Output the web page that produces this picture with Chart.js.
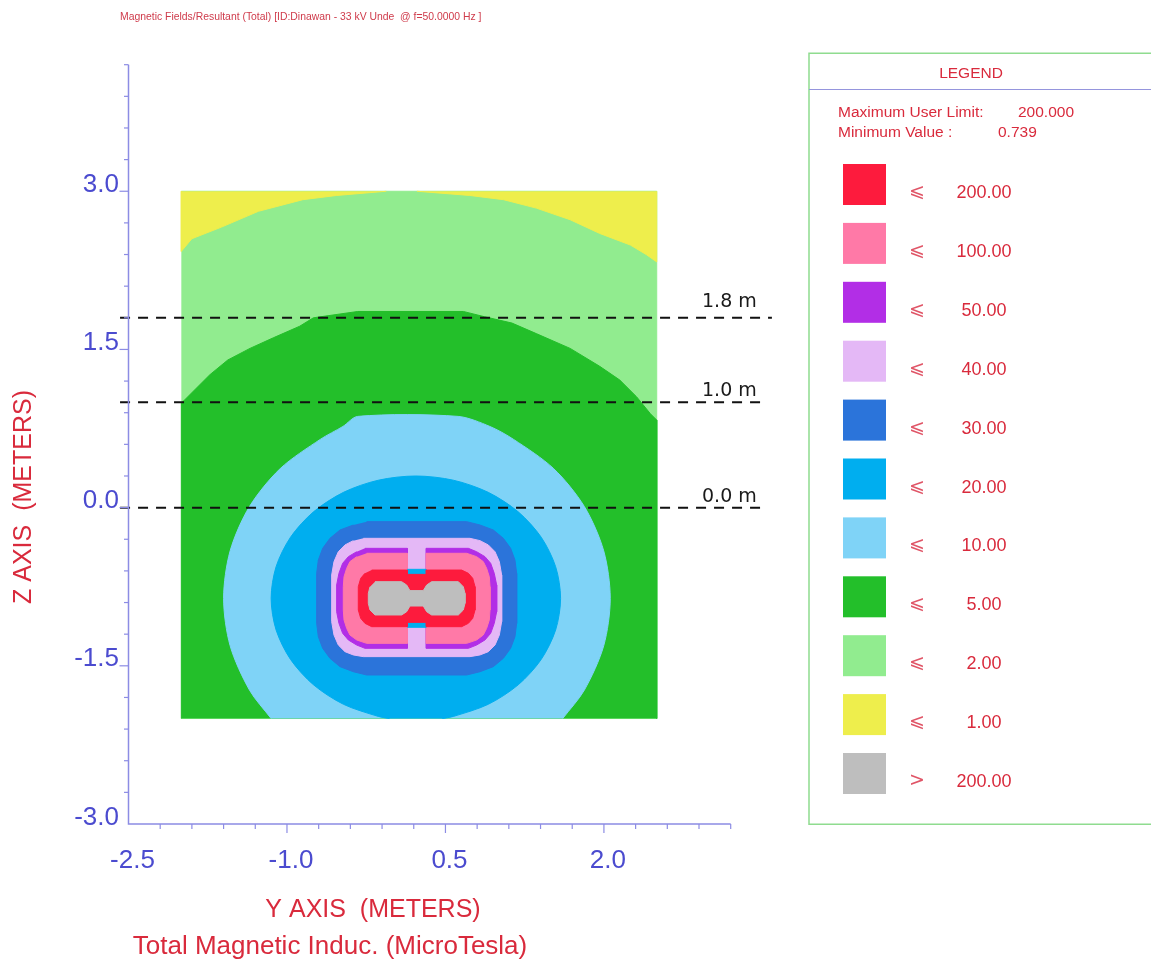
<!DOCTYPE html>
<html>
<head>
<meta charset="utf-8">
<title>Total Magnetic Induction</title>
<script src="https://cdn.jsdelivr.net/npm/chart.js@4.4.1/dist/chart.umd.min.js"></script>
<style>
  html, body { margin: 0; padding: 0; background: #ffffff; }
  #wrap { position: relative; width: 1151px; height: 962px; }
</style>
</head>
<body>
<div id="wrap"><canvas id="field"></canvas></div>
<script>
// ---- Contour boundaries, [Y (m), Z (m)] -------------------------------------
const gridArea   = [[-2.0,-2.0],[2.5,-2.0],[2.5,3.0],[-2.0,3.0]];              // <= 2.00 (whole grid)
const below1Left = [[-2.0,3.0],[-2.0,2.43],[-1.90,2.55],[-1.62,2.66],[-1.27,2.81],[-0.85,2.92],[-0.53,2.96],[-0.06,3.0]];
const below1Right= [[0.23,3.0],[0.73,2.96],[1.05,2.92],[1.36,2.84],[1.68,2.73],[1.96,2.60],[2.25,2.49],[2.40,2.40],[2.5,2.33],[2.5,3.0]];
const below5     = [[-2.0,-2.0],[-2.0,0.99],[-1.87,1.12],[-1.73,1.26],[-1.56,1.40],[-1.35,1.51],[-1.13,1.61],[-0.88,1.72],[-0.75,1.80],
                    [-0.33,1.86],[0.67,1.86],[0.87,1.81],[1.13,1.75],[1.36,1.65],[1.68,1.51],[1.96,1.34],[2.15,1.21],[2.31,1.05],
                    [2.44,0.89],[2.5,0.83],[2.5,-2.0]];
const below10    = [[-1.15,-2.0],[-1.355,-1.73],[-1.538,-1.31],[-1.60,-0.86],[-1.538,-0.41],[-1.355,0.01],[-1.064,0.37],[-0.685,0.647],
                    [-0.47,0.77],[-0.33,0.865],[0.62,0.865],[0.92,0.77],[1.145,0.647],[1.524,0.37],[1.815,0.01],[1.998,-0.41],
                    [2.06,-0.86],[1.998,-1.31],[1.815,-1.73],[1.61,-2.0]];
const below20    = [[-0.03,-2.0],[-0.135,-1.98],[-0.465,-1.865],[-0.749,-1.68],[-0.966,-1.44],[-1.103,-1.16],[-1.15,-0.86],[-1.103,-0.56],
                    [-0.966,-0.28],[-0.749,-0.04],[-0.465,0.145],[-0.135,0.26],[0.22,0.30],[0.575,0.26],[0.905,0.145],[1.189,-0.04],
                    [1.406,-0.28],[1.543,-0.56],[1.59,-0.86],[1.543,-1.16],[1.406,-1.44],[1.189,-1.68],[0.905,-1.865],[0.575,-1.98],[0.47,-2.0]];
const below30    = [[-0.246,-0.133],[0.701,-0.133],[0.827,-0.165],[0.953,-0.212],[1.048,-0.291],[1.117,-0.386],[1.158,-0.497],[1.174,-0.623],
                    [1.174,-1.097],[1.158,-1.224],[1.117,-1.334],[1.048,-1.429],[0.953,-1.508],[0.827,-1.556],[0.701,-1.587],
                    [-0.246,-1.587],[-0.372,-1.556],[-0.498,-1.508],[-0.593,-1.429],[-0.662,-1.334],[-0.703,-1.224],[-0.719,-1.097],
                    [-0.719,-0.623],[-0.703,-0.497],[-0.662,-0.386],[-0.593,-0.291],[-0.498,-0.212],[-0.372,-0.165]];
const below40    = [[-0.277,-0.291],[0.732,-0.291],[0.827,-0.313],[0.906,-0.354],[0.969,-0.418],[1.010,-0.512],[1.032,-0.639],
                    [1.032,-1.081],[1.010,-1.208],[0.969,-1.303],[0.906,-1.366],[0.827,-1.397],[0.732,-1.413],
                    [-0.277,-1.413],[-0.372,-1.397],[-0.451,-1.366],[-0.514,-1.303],[-0.555,-1.208],[-0.577,-1.081],
                    [-0.577,-0.639],[-0.555,-0.512],[-0.514,-0.418],[-0.451,-0.354],[-0.372,-0.313]];
const below50    = [[-0.262,-0.386],[0.139,-0.386],[0.139,-0.633],[0.316,-0.633],[0.316,-0.386],[0.717,-0.386],[0.795,-0.418],[0.874,-0.465],
                    [0.928,-0.528],[0.962,-0.623],[0.985,-0.734],[0.985,-0.987],[0.962,-1.097],[0.928,-1.192],[0.874,-1.255],[0.795,-1.303],
                    [0.717,-1.334],[0.316,-1.334],[0.316,-1.088],[0.139,-1.088],[0.139,-1.334],[-0.262,-1.334],[-0.340,-1.303],
                    [-0.419,-1.255],[-0.473,-1.192],[-0.508,-1.097],[-0.530,-0.987],[-0.530,-0.734],[-0.508,-0.623],[-0.473,-0.528],
                    [-0.419,-0.465],[-0.340,-0.418]];
const below100   = [[-0.246,-0.433],[0.139,-0.433],[0.139,-0.633],[0.316,-0.633],[0.316,-0.433],[0.701,-0.433],[0.795,-0.465],[0.858,-0.512],
                    [0.890,-0.576],[0.915,-0.655],[0.922,-0.750],[0.922,-0.971],[0.915,-1.066],[0.890,-1.145],[0.858,-1.208],[0.795,-1.255],
                    [0.701,-1.287],[0.316,-1.287],[0.316,-1.088],[0.139,-1.088],[0.139,-1.287],[-0.246,-1.287],[-0.340,-1.255],
                    [-0.404,-1.208],[-0.435,-1.145],[-0.460,-1.066],[-0.467,-0.971],[-0.467,-0.750],[-0.460,-0.655],[-0.435,-0.576],
                    [-0.404,-0.512],[-0.340,-0.465]];
const gapTop     = [[0.139,-0.585],[0.316,-0.585],[0.316,-0.633],[0.139,-0.633]];   // 20.00 pockets between the lobes
const gapBottom  = [[0.139,-1.088],[0.316,-1.088],[0.316,-1.135],[0.139,-1.135]];
const below200   = [[-0.198,-0.592],[0.139,-0.592],[0.139,-0.633],[0.316,-0.633],[0.316,-0.592],[0.653,-0.592],[0.717,-0.623],[0.758,-0.670],
                    [0.780,-0.750],[0.780,-0.971],[0.758,-1.050],[0.717,-1.097],[0.653,-1.129],[0.316,-1.129],[0.316,-1.088],[0.139,-1.088],
                    [0.139,-1.129],[-0.198,-1.129],[-0.262,-1.097],[-0.302,-1.050],[-0.325,-0.971],[-0.325,-0.750],[-0.302,-0.670],[-0.262,-0.623]];
const above200   = [[-0.167,-0.702],[0.085,-0.702],[0.133,-0.734],[0.164,-0.787],[0.290,-0.787],[0.322,-0.734],[0.369,-0.702],[0.622,-0.702],
                    [0.669,-0.750],[0.685,-0.813],[0.685,-0.908],[0.669,-0.971],[0.622,-1.018],[0.369,-1.018],[0.322,-0.987],[0.290,-0.933],
                    [0.164,-0.933],[0.133,-0.987],[0.085,-1.018],[-0.167,-1.018],[-0.214,-0.971],[-0.230,-0.908],[-0.230,-0.813],[-0.214,-0.750]];

// ---- Reference heights (m) -------------------------------------------------
const sectionHeights = [1.8, 1.0, 0.0];

// ---- Axes -------------------------------------------------------------------
const yAxisRange = [-2.5, 3.2];
const zAxisRange = [-3.0, 4.2];
const tickStep = 0.3;
const yTickLabels = ['-2.5', '-1.0', '0.5', '2.0'];
const zTickLabels = ['-3.0', '-1.5', '0.0', '1.5', '3.0'];

// ---- Legend -------------------------------------------------------------------
const legendValues = ['200.00','100.00','50.00','40.00','30.00','20.00','10.00','5.00','2.00','1.00','200.00'];
const legendSigns  = ['\u2A7D','\u2A7D','\u2A7D','\u2A7D','\u2A7D','\u2A7D','\u2A7D','\u2A7D','\u2A7D','\u2A7D','>'];
const maxUserLimit = '200.000';
const minimumValue = '0.739';

// ---- Styling ------------------------------------------------------------------
const COLORS = {
  c200: '#fd1b3d', c100: '#ff79a7', c50: '#b22ee6', c40: '#e4b8f6', c30: '#2b74da',
  c20: '#00aeef', c10: '#7fd3f7', c5: '#23bf2a', c2: '#91ec8f', c1: '#eeee4c', over: '#bebebe'
};
const legendColors = [COLORS.c200, COLORS.c100, COLORS.c50, COLORS.c40, COLORS.c30, COLORS.c20,
                      COLORS.c10, COLORS.c5, COLORS.c2, COLORS.c1, COLORS.over];
const SANS = '"Liberation Sans", Arial, Helvetica, sans-serif';
const RED_TEXT = '#d92a3c';
const BLUE_TEXT = '#4b4bcf';
const AXIS_LINE = '#8c8ce4';
const sectionLineStyle = { x0: -2.58, x1: [3.59, 3.53, 3.53], lift: [11, 6, 6] };

function band(label, pts, color, order, tension) {
  return {
    label,
    data: pts.map(([y, z]) => ({ x: y, y: z })),
    showLine: true,
    fill: 'shape',
    backgroundColor: color,
    borderColor: color,
    borderWidth: 1,
    tension: tension || 0,
    pointRadius: 0,
    pointHoverRadius: 0,
    order
  };
}

const datasets = [
  band('2.00', gridArea, COLORS.c2, 30),
  band('1.00 left', below1Left, COLORS.c1, 29),
  band('1.00 right', below1Right, COLORS.c1, 28),
  band('5.00', below5, COLORS.c5, 27),
  band('10.00', below10, COLORS.c10, 26, 0.3),
  band('20.00', below20, COLORS.c20, 25, 0.3),
  band('30.00', below30, COLORS.c30, 24),
  band('40.00', below40, COLORS.c40, 23),
  band('50.00', below50, COLORS.c50, 22),
  band('100.00', below100, COLORS.c100, 21),
  band('20.00 upper pocket', gapTop, COLORS.c20, 20),
  band('20.00 lower pocket', gapBottom, COLORS.c20, 19),
  band('200.00', below200, COLORS.c200, 18),
  band('>200.00', above200, COLORS.over, 17)
];

sectionHeights.forEach((h, i) => {
  datasets.push({
    label: h.toFixed(1) + ' m',
    data: [{ x: sectionLineStyle.x0, y: h }, { x: sectionLineStyle.x1[i], y: h }],
    showLine: true,
    fill: false,
    borderColor: '#111111',
    borderWidth: 2,
    borderDash: [10, 8],
    pointRadius: 0,
    pointHoverRadius: 0,
    clip: false,
    order: 0
  });
});

// Axes, titles, section labels and the colour key
const decorations = {
  id: 'decorations',
  afterDraw(chart) {
    const { ctx, chartArea: a } = chart;
    const xs = chart.scales.x, ys = chart.scales.y;
    ctx.save();

    // heading
    ctx.font = '10.4px ' + SANS;
    ctx.fillStyle = '#cf3b4b';
    ctx.textAlign = 'left';
    ctx.textBaseline = 'alphabetic';
    ctx.fillText('Magnetic Fields/Resultant (Total) [ID:Dinawan - 33 kV Unde  @ f=50.0000 Hz ]', 120, 20);

    // axis lines
    ctx.strokeStyle = AXIS_LINE;
    ctx.lineWidth = 1.5;
    ctx.beginPath();
    ctx.moveTo(a.left, a.top);
    ctx.lineTo(a.left, a.bottom);
    ctx.lineTo(a.right, a.bottom);
    ctx.stroke();

    // ticks
    ctx.lineWidth = 1.2;
    const nz = Math.round((zAxisRange[1] - zAxisRange[0]) / tickStep);
    for (let i = 1; i <= nz; i++) {
      const py = ys.getPixelForValue(zAxisRange[0] + i * tickStep);
      const len = i % 5 === 0 ? 9 : 4.5;
      ctx.beginPath(); ctx.moveTo(a.left - len, py); ctx.lineTo(a.left, py); ctx.stroke();
    }
    const nx = Math.round((yAxisRange[1] - yAxisRange[0]) / tickStep);
    for (let i = 1; i <= nx; i++) {
      const px = xs.getPixelForValue(yAxisRange[0] + i * tickStep);
      const len = i % 5 === 0 ? 9 : 5;
      ctx.beginPath(); ctx.moveTo(px, a.bottom); ctx.lineTo(px, a.bottom + len); ctx.stroke();
    }

    // tick labels
    ctx.font = '26px ' + SANS;
    ctx.fillStyle = BLUE_TEXT;
    ctx.textAlign = 'right';
    zTickLabels.forEach(t => ctx.fillText(t, a.left - 9.5, ys.getPixelForValue(parseFloat(t)) + 0.5));
    ctx.textAlign = 'center';
    yTickLabels.forEach(t => ctx.fillText(t, xs.getPixelForValue(parseFloat(t)) + 4, a.bottom + 44));

    // axis titles
    ctx.fillStyle = RED_TEXT;
    ctx.font = '25px ' + SANS;
    ctx.fillText('Y AXIS  (METERS)', 373, 917);
    ctx.font = '26px ' + SANS;
    ctx.fillText('Total Magnetic Induc. (MicroTesla)', 330, 954);
    ctx.save();
    ctx.translate(31, 497);
    ctx.rotate(-Math.PI / 2);
    ctx.font = '25px ' + SANS;
    ctx.fillText('Z AXIS  (METERS)', 0, 0);
    ctx.restore();

    // section labels
    ctx.font = '19px "DejaVu Sans", Verdana, sans-serif';
    ctx.fillStyle = '#1a1a1a';
    ctx.textAlign = 'left';
    sectionHeights.forEach((h, i) => {
      ctx.fillText(h.toFixed(1) + ' m', 702, ys.getPixelForValue(h) - sectionLineStyle.lift[i]);
    });

    // colour key frame
    ctx.strokeStyle = '#8fdc8f';
    ctx.lineWidth = 1.5;
    ctx.beginPath();
    ctx.moveTo(1153, 53.3); ctx.lineTo(809, 53.3); ctx.lineTo(809, 824.3); ctx.lineTo(1153, 824.3);
    ctx.stroke();
    ctx.strokeStyle = '#9595dd';
    ctx.lineWidth = 1.2;
    ctx.beginPath(); ctx.moveTo(809, 89.5); ctx.lineTo(1153, 89.5); ctx.stroke();

    ctx.fillStyle = RED_TEXT;
    ctx.font = '15.5px ' + SANS;
    ctx.textAlign = 'center';
    ctx.fillText('LEGEND', 971, 77.5);
    ctx.textAlign = 'left';
    ctx.fillText('Maximum User Limit:', 838, 117);
    ctx.fillText(maxUserLimit, 1018, 117);
    ctx.fillText('Minimum Value :', 838, 136.5);
    ctx.fillText(minimumValue, 998, 136.5);

    legendValues.forEach((v, i) => {
      const top = 164 + i * 58.9;
      ctx.fillStyle = legendColors[i];
      ctx.fillRect(843, top, 43, 41);
      ctx.fillStyle = '#e05567';
      ctx.textAlign = 'center';
      ctx.font = '19px "DejaVu Sans", sans-serif';
      ctx.fillText(legendSigns[i], 917, top + 33);
      ctx.fillStyle = RED_TEXT;
      ctx.font = '18px ' + SANS;
      ctx.fillText(v, 984, top + 34);
    });

    ctx.restore();
  }
};

new Chart(document.getElementById('field'), {
  type: 'scatter',
  data: { datasets },
  options: {
    responsive: true,
    maintainAspectRatio: false,
    animation: false,
    devicePixelRatio: 1,
    layout: { padding: { left: 128.5, top: 64.7, right: 420.3, bottom: 138 } },
    scales: {
      x: { type: 'linear', min: yAxisRange[0], max: yAxisRange[1], display: false },
      y: { type: 'linear', min: zAxisRange[0], max: zAxisRange[1], display: false }
    },
    plugins: {
      legend: { display: false },
      tooltip: { enabled: false },
      filler: { propagate: false }
    },
    events: []
  },
  plugins: [decorations]
});
</script>
</body>
</html>
